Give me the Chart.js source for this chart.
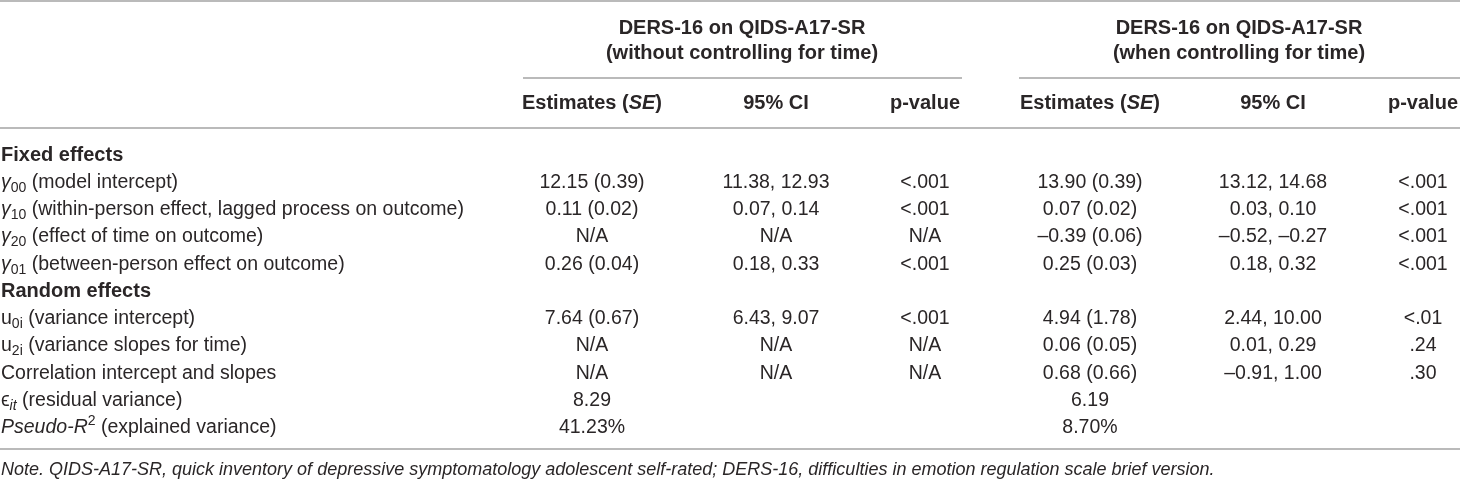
<!DOCTYPE html>
<html>
<head>
<meta charset="utf-8">
<script src="https://cdn.jsdelivr.net/npm/chart.js@4.4.1/dist/chart.umd.min.js"></script>
<style>
    html, body { margin: 0; padding: 0; background: #fff; }
    #wrap { width: 1460px; height: 482px; }
</style>
</head>
<body>
<div id="wrap"><canvas id="tabla" width="1460" height="482"></canvas></div>
<script>
// datos de la tabla (marcado: *cursiva*, _{subindice}, ^{superindice})
const rowLabels = [
    'Fixed effects',
    '*γ*_{00} (model intercept)',
    '*γ*_{10} (within-person effect, lagged process on outcome)',
    '*γ*_{20} (effect of time on outcome)',
    '*γ*_{01} (between-person effect on outcome)',
    'Random effects',
    'u_{0i} (variance intercept)',
    'u_{2i} (variance slopes for time)',
    'Correlation intercept and slopes',
    'ϵ_{*it*} (residual variance)',
    '*Pseudo-R*^{2} (explained variance)'
];
const sectionRows = ['Fixed effects', 'Random effects'];

const estSinTiempo = ['', '12.15 (0.39)', '0.11 (0.02)', 'N/A', '0.26 (0.04)', '', '7.64 (0.67)', 'N/A', 'N/A', '8.29', '41.23%'];
const ciSinTiempo = ['', '11.38, 12.93', '0.07, 0.14', 'N/A', '0.18, 0.33', '', '6.43, 9.07', 'N/A', 'N/A', '', ''];
const pSinTiempo = ['', '<.001', '<.001', 'N/A', '<.001', '', '<.001', 'N/A', 'N/A', '', ''];

const estConTiempo = ['', '13.90 (0.39)', '0.07 (0.02)', '–0.39 (0.06)', '0.25 (0.03)', '', '4.94 (1.78)', '0.06 (0.05)', '0.68 (0.66)', '6.19', '8.70%'];
const ciConTiempo = ['', '13.12, 14.68', '0.03, 0.10', '–0.52, –0.27', '0.18, 0.32', '', '2.44, 10.00', '0.01, 0.29', '–0.91, 1.00', '', ''];
const pConTiempo = ['', '<.001', '<.001', '<.001', '<.001', '', '<.01', '.24', '.30', '', ''];

const groupTitles = [
    ['DERS-16 on QIDS-A17-SR', '(without controlling for time)'],
    ['DERS-16 on QIDS-A17-SR', '(when controlling for time)']
];
const columnHeaders = ['Estimates (*SE*)', '95% CI', 'p-value', 'Estimates (*SE*)', '95% CI', 'p-value'];
const noteText = '*Note. QIDS-A17-SR, quick inventory of depressive symptomatology adolescent self-rated; DERS-16, difficulties in emotion regulation scale brief version.*';

// disposicion (en pixeles de la escala)
const W = 1460, H = 482;
const labelX = 1;
const colX = [592, 776, 925, 1090, 1273, 1423];
const groupX = [742, 1239];
const groupLine = [[523, 962], [1019, 1460]];
const rowY0 = 155, rowPitch = 27.3;
const titleY = [28, 53], groupLineY = 78, headerY = 103, headerRuleY = 128, bottomRuleY = 449, noteY = 470;

const FONT = '"Liberation Sans", Arial, Helvetica, sans-serif';
const TEXT = '#2a2627';
const RULE = '#a3a3a3';

function parseMarkup(str) {
    const segs = [];
    let italic = false, mode = 'normal', buf = '';
    const flush = function () { if (buf) segs.push({ text: buf, italic: italic, mode: mode }); buf = ''; };
    for (let i = 0; i < str.length; i++) {
        const ch = str[i];
        if (ch === '*') { flush(); italic = !italic; }
        else if ((ch === '_' || ch === '^') && str[i + 1] === '{') { flush(); mode = ch === '_' ? 'sub' : 'sup'; i++; }
        else if (ch === '}' && mode !== 'normal') { flush(); mode = 'normal'; }
        else buf += ch;
    }
    flush();
    return segs;
}

function segFont(seg, size, bold) {
    const s = seg.mode === 'normal' ? size : size * 0.72;
    return (seg.italic ? 'italic ' : '') + (bold ? 'bold ' : '') + s + 'px ' + FONT;
}

function drawRich(ctx, str, x, y, align, size, bold) {
    if (!str) return;
    const segs = parseMarkup(str);
    let total = 0;
    segs.forEach(function (seg) {
        ctx.font = segFont(seg, size, bold);
        seg.w = ctx.measureText(seg.text).width;
        total += seg.w;
    });
    let cx = x;
    if (align === 'center') cx = x - total / 2;
    else if (align === 'right') cx = x - total;
    ctx.textAlign = 'left';
    ctx.textBaseline = 'middle';
    ctx.fillStyle = TEXT;
    segs.forEach(function (seg) {
        ctx.font = segFont(seg, size, bold);
        let dy = 0;
        if (seg.mode === 'sub') dy = size * 0.28;
        if (seg.mode === 'sup') dy = -size * 0.33;
        ctx.fillText(seg.text, cx, y + dy);
        cx += seg.w;
    });
}

const columnas = [
    { texts: rowLabels, x: labelX, align: 'left' },
    { texts: estSinTiempo, x: colX[0], align: 'center' },
    { texts: ciSinTiempo, x: colX[1], align: 'center' },
    { texts: pSinTiempo, x: colX[2], align: 'center' },
    { texts: estConTiempo, x: colX[3], align: 'center' },
    { texts: ciConTiempo, x: colX[4], align: 'center' },
    { texts: pConTiempo, x: colX[5], align: 'center' }
];

const tablaPlugin = {
    id: 'tabla',
    afterDatasetsDraw: function (chart) {
        const ctx = chart.ctx;
        const sx = chart.scales.x, sy = chart.scales.y;
        ctx.save();

        // lineas
        ctx.strokeStyle = RULE;
        ctx.lineWidth = 1.5;
        function hline(x0, x1, y) {
            ctx.beginPath();
            ctx.moveTo(sx.getPixelForValue(x0), sy.getPixelForValue(y));
            ctx.lineTo(sx.getPixelForValue(x1), sy.getPixelForValue(y));
            ctx.stroke();
        }
        hline(0, W, 1);
        groupLine.forEach(function (g) { hline(g[0], g[1], groupLineY); });
        hline(0, W, headerRuleY);
        hline(0, W, bottomRuleY);

        // encabezados
        groupTitles.forEach(function (t, g) {
            t.forEach(function (line, k) {
                drawRich(ctx, line, sx.getPixelForValue(groupX[g]), sy.getPixelForValue(titleY[k]), 'center', 20, true);
            });
        });
        columnHeaders.forEach(function (h, c) {
            drawRich(ctx, h, sx.getPixelForValue(colX[c]), sy.getPixelForValue(headerY), 'center', 20, true);
        });

        // celdas
        chart.data.datasets.forEach(function (ds, d) {
            const meta = chart.getDatasetMeta(d);
            meta.data.forEach(function (pt, i) {
                const txt = ds.texts[i];
                const bold = d === 0 && sectionRows.indexOf(txt) >= 0;
                drawRich(ctx, txt, pt.x, pt.y, ds.align, bold ? 20 : 19.5, bold);
            });
        });

        drawRich(ctx, noteText, sx.getPixelForValue(labelX), sy.getPixelForValue(noteY), 'left', 18, false);
        ctx.restore();
    }
};

const ctx = document.getElementById('tabla').getContext('2d');
const myChart = new Chart(ctx, {
    type: 'scatter',
    data: {
        datasets: columnas.map(function (col, c) {
            return {
                label: 'col' + c,
                texts: col.texts,
                align: col.align,
                data: col.texts.map(function (_, i) { return { x: col.x, y: rowY0 + i * rowPitch }; }),
                pointRadius: 0,
                showLine: false
            };
        })
    },
    options: {
        responsive: false,
        animation: false,
        events: [],
        layout: { padding: 0 },
        plugins: {
            legend: { display: false },
            tooltip: { enabled: false }
        },
        scales: {
            x: { type: 'linear', min: 0, max: W, display: false },
            y: { type: 'linear', min: 0, max: H, reverse: true, display: false }
        }
    },
    plugins: [tablaPlugin]
});
</script>
</body>
</html>
